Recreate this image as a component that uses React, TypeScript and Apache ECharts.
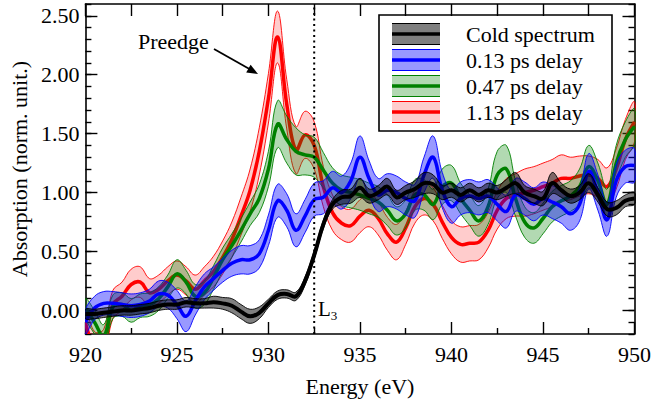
import React, { useEffect, useRef } from "react";
import * as echarts from "echarts";

const energy = [
  920, 920.5, 921, 921.5, 922, 922.5, 923, 923.5, 924, 924.5,
  925, 925.5, 926, 926.5, 927, 927.5, 928, 928.5, 929, 929.5,
  930, 930.5, 931, 931.5, 932, 932.5, 933, 933.5, 934, 934.5,
  935, 935.5, 936, 936.5, 937, 937.5, 938, 938.5, 939, 939.5,
  940, 940.5, 941, 941.5, 942, 942.5, 943, 943.5, 944, 944.5,
  945, 945.5, 946, 946.5, 947, 947.5, 948, 948.5, 949, 949.5,
  950,
];

const coldMean = [
  -0.03, -0.03, -0.02, -0.01, 0.0, 0.0, 0.01, 0.02, 0.04, 0.05,
  0.05, 0.07, 0.06, 0.06, 0.07, 0.06, 0.04, -0.01, -0.05, -0.02,
  0.06, 0.13, 0.14, 0.12, 0.25, 0.47, 0.73, 0.9, 0.96, 0.97,
  1.04, 0.97, 1.0, 1.05, 0.96, 1.0, 1.03, 1.08, 1.07, 1.0,
  1.02, 0.98, 1.02, 0.98, 1.02, 1.0, 1.04, 1.08, 1.0, 0.97,
  0.95, 1.08, 1.02, 0.97, 1.0, 1.08, 0.98, 0.86, 0.87, 0.93,
  0.95,
];
const coldErr = [
  0.04, 0.04, 0.04, 0.04, 0.04, 0.04, 0.04, 0.04, 0.04, 0.04,
  0.04, 0.04, 0.04, 0.04, 0.05, 0.05, 0.06, 0.06, 0.06, 0.05,
  0.035, 0.035, 0.035, 0.035, 0.035, 0.035, 0.035, 0.04, 0.06, 0.06,
  0.08, 0.06, 0.06, 0.07, 0.06, 0.06, 0.07, 0.09, 0.08, 0.06,
  0.06, 0.06, 0.06, 0.06, 0.06, 0.06, 0.07, 0.09, 0.06, 0.06,
  0.06, 0.09, 0.06, 0.06, 0.06, 0.08, 0.06, 0.06, 0.06, 0.05,
  0.05,
];

const delay013Mean = [
  -0.1, 0.02, 0.06, 0.06, 0.05, 0.04, 0.05, 0.08, 0.14, 0.13,
  0.05, -0.05, 0.08, 0.2, 0.27, 0.34, 0.4, 0.43, 0.43, 0.48,
  0.68, 0.93, 0.85, 0.68, 0.8, 0.94, 0.96, 1.04, 1.0, 1.1,
  1.3, 1.12, 0.98, 1.02, 1.0, 0.95, 0.93, 1.15, 1.3, 1.02,
  0.88, 0.95, 0.97, 0.95, 0.97, 0.9, 0.84, 0.98, 0.95, 0.9,
  0.95, 0.92, 0.88, 0.82, 0.9, 1.18, 1.0, 0.77, 1.1, 1.22,
  1.23,
];
const delay013Err = [
  0.1, 0.1, 0.1, 0.1, 0.1, 0.1, 0.1, 0.1, 0.11, 0.11,
  0.12, 0.13, 0.12, 0.11, 0.1, 0.1, 0.11, 0.12, 0.12, 0.12,
  0.13, 0.14, 0.14, 0.14, 0.14, 0.14, 0.14, 0.14, 0.14, 0.15,
  0.18, 0.15, 0.14, 0.14, 0.14, 0.14, 0.14, 0.15, 0.18, 0.15,
  0.14, 0.14, 0.14, 0.14, 0.14, 0.14, 0.14, 0.14, 0.14, 0.14,
  0.14, 0.14, 0.14, 0.14, 0.14, 0.15, 0.15, 0.14, 0.14, 0.14,
  0.14,
];

const delay047Mean = [
  0.02, -0.1, -0.22, 0.03, 0.05, 0.0, 0.04, 0.05, 0.1, 0.2,
  0.31, 0.24, 0.12, 0.15, 0.28, 0.43, 0.55, 0.68, 0.82, 0.95,
  1.2, 1.58, 1.45, 1.35, 1.32, 1.3, 1.19, 1.08, 1.02, 1.0,
  0.98, 0.95, 0.92, 0.85, 0.76, 0.82, 0.98, 0.98, 0.9, 1.05,
  1.08, 0.95, 0.85, 0.76, 0.88, 1.15, 1.2, 0.95, 0.75, 0.7,
  0.78, 0.88, 0.93, 0.97, 1.05, 1.22, 1.1, 0.9, 1.25, 1.45,
  1.56,
];
const delay047Err = [
  0.08, 0.1, 0.1, 0.1, 0.1, 0.1, 0.1, 0.1, 0.1, 0.1,
  0.12, 0.1, 0.1, 0.1, 0.1, 0.1, 0.1, 0.1, 0.1, 0.12,
  0.15, 0.2, 0.2, 0.2, 0.17, 0.17, 0.15, 0.13, 0.13, 0.13,
  0.13, 0.13, 0.13, 0.13, 0.12, 0.12, 0.13, 0.13, 0.13, 0.15,
  0.15, 0.13, 0.13, 0.13, 0.15, 0.2, 0.2, 0.15, 0.13, 0.13,
  0.13, 0.13, 0.13, 0.13, 0.15, 0.18, 0.15, 0.13, 0.15, 0.15,
  0.15,
];

const delay113Mean = [
  -0.1, -0.3, -0.28, 0.05, 0.12, 0.22, 0.24, 0.15, 0.18, 0.25,
  0.3, 0.25, 0.18, 0.25, 0.33, 0.45, 0.6, 0.8, 1.02, 1.35,
  1.8, 2.32, 1.75, 1.36, 1.49, 1.4, 1.05, 0.83, 0.74, 0.72,
  0.8, 0.85, 0.78, 0.65, 0.58, 0.7, 0.88, 0.95, 0.9, 0.75,
  0.62, 0.56, 0.57, 0.58, 0.68, 0.85, 0.95, 0.98, 1.0, 1.02,
  1.05, 1.08, 1.12, 1.12, 1.14, 1.15, 1.12, 1.05, 1.2, 1.45,
  1.6,
];
const delay113Err = [
  0.12, 0.12, 0.12, 0.12, 0.12, 0.13, 0.13, 0.12, 0.12, 0.12,
  0.12, 0.12, 0.12, 0.12, 0.13, 0.14, 0.15, 0.16, 0.18, 0.2,
  0.21, 0.22, 0.21, 0.2, 0.2, 0.2, 0.17, 0.15, 0.14, 0.14,
  0.14, 0.14, 0.14, 0.14, 0.15, 0.14, 0.14, 0.14, 0.14, 0.14,
  0.14, 0.15, 0.15, 0.15, 0.15, 0.16, 0.17, 0.18, 0.2, 0.2,
  0.2, 0.2, 0.2, 0.18, 0.17, 0.16, 0.16, 0.16, 0.17, 0.17,
  0.17,
];

const legendLabels = ["Cold spectrum", "0.13 ps delay", "0.47 ps delay", "1.13 ps delay"];
const yMajorTicks = [0, 0.5, 1, 1.5, 2, 2.5];
const edgeEnergy = 932.5;
const yMin = -0.2;
const yMax = 2.6;

const FONT = "Liberation Serif, Times New Roman, serif";
const SMOOTH = 0.4;

const COLORS = {
  cold: { line: "#000000", fill: "rgba(0,0,0,0.5)" },
  d013: { line: "#0000ff", fill: "rgba(0,0,255,0.4)" },
  d047: { line: "#008000", fill: "rgba(0,128,0,0.3)" },
  d113: { line: "#ff0000", fill: "rgba(255,0,0,0.2)" },
};

function spectrumSeries(name: string, mean: number[], err: number[], color: string, fill: string, lineWidth: number) {
  const data = energy.map((e, i) => [e, mean[i] - err[i], mean[i] + err[i], mean[i]]);
  return {
    type: "custom",
    name,
    silent: true,
    clip: true,
    encode: { x: 0, y: [1, 2, 3] },
    data,
    renderItem: (params: any, api: any) => {
      if (params.dataIndex !== 0) return null;
      const lower = energy.map((e, i) => api.coord([e, mean[i] - err[i]]));
      const upper = energy.map((e, i) => api.coord([e, mean[i] + err[i]]));
      const center = energy.map((e, i) => api.coord([e, mean[i]]));
      const band = lower.concat(upper.slice().reverse());
      return {
        type: "group",
        children: [
          {
            type: "polygon",
            shape: { points: band, smooth: SMOOTH },
            style: { fill, stroke: color, lineWidth: 0.9 },
          },
          {
            type: "polyline",
            shape: { points: center, smooth: SMOOTH },
            style: { fill: "none", stroke: color, lineWidth, lineJoin: "round" },
          },
        ],
      };
    },
  };
}

const axisLineStyle = { color: "#000", width: 1.6 };
const tickStyle = { color: "#000", width: 1.4 };

export default function App() {
  const ref = useRef<HTMLDivElement>(null);
  useEffect(() => {
    if (!ref.current) return;
    const chart = echarts.init(ref.current, undefined, { renderer: "svg" });

    const legendRows = [COLORS.cold, COLORS.d013, COLORS.d047, COLORS.d113];
    const legendY = [34, 60, 86, 112];
    const legendChildren: any[] = [
      {
        type: "rect",
        shape: { x: 379, y: 15, width: 233, height: 116 },
        style: { fill: "#fff", stroke: "#000", lineWidth: 1.6 },
      },
    ];
    legendRows.forEach((c, i) => {
      const cy = legendY[i];
      legendChildren.push(
        { type: "rect", shape: { x: 392, y: cy - 10.5, width: 48, height: 21 }, style: { fill: c.fill } },
        { type: "line", shape: { x1: 392, y1: cy - 10.5, x2: 440, y2: cy - 10.5 }, style: { stroke: c.line, lineWidth: 1 } },
        { type: "line", shape: { x1: 392, y1: cy + 10.5, x2: 440, y2: cy + 10.5 }, style: { stroke: c.line, lineWidth: 1 } },
        { type: "line", shape: { x1: 392, y1: cy, x2: 440, y2: cy }, style: { stroke: c.line, lineWidth: 3.5 } },
        {
          type: "text",
          x: 466,
          y: cy,
          style: { text: legendLabels[i], fontFamily: FONT, fontSize: 22, fill: "#000", verticalAlign: "middle", align: "left" },
        }
      );
    });

    const option: any = {
      animation: false,
      backgroundColor: "#fff",
      textStyle: { fontFamily: FONT },
      grid: { left: 79, right: 19, top: 4, bottom: 71 },
      xAxis: [
        {
          type: "value",
          position: "bottom",
          min: 920,
          max: 950,
          interval: 5,
          axisLine: { show: true, onZero: false, lineStyle: axisLineStyle },
          axisTick: { show: true, inside: true, length: 12, lineStyle: tickStyle },
          minorTick: { show: true, splitNumber: 2, length: 6, lineStyle: tickStyle },
          axisLabel: { fontFamily: FONT, fontSize: 22, color: "#000", margin: 9 },
          splitLine: { show: false },
          name: "Energy (eV)",
          nameLocation: "middle",
          nameGap: 41,
          nameTextStyle: { fontFamily: FONT, fontSize: 22, color: "#000" },
        },
        {
          type: "value",
          position: "top",
          min: 920,
          max: 950,
          interval: 2.5,
          axisLine: { show: true, onZero: false, lineStyle: axisLineStyle },
          axisTick: { show: true, inside: true, length: 12, lineStyle: tickStyle },
          axisLabel: { show: false },
          splitLine: { show: false },
        },
      ],
      yAxis: [
        {
          type: "value",
          position: "left",
          min: yMin,
          max: yMax,
          interval: 0.1,
          axisLine: { show: true, onZero: false, lineStyle: axisLineStyle },
          axisTick: { show: true, inside: true, length: 6, lineStyle: tickStyle },
          axisLabel: { show: false },
          splitLine: { show: false },
        },
        {
          type: "value",
          position: "left",
          min: yMin,
          max: yMax,
          axisLine: { show: false, onZero: false },
          axisTick: { show: true, inside: true, length: 12, lineStyle: tickStyle, customValues: yMajorTicks },
          axisLabel: {
            customValues: yMajorTicks,
            formatter: (v: number) => v.toFixed(2),
            fontFamily: FONT,
            fontSize: 22,
            color: "#000",
            margin: 6,
          },
          splitLine: { show: false },
          name: "Absorption (norm. unit.)",
          nameLocation: "middle",
          nameGap: 50,
          nameTextStyle: { fontFamily: FONT, fontSize: 22, color: "#000" },
        },
        {
          type: "value",
          position: "right",
          min: yMin,
          max: yMax,
          interval: 0.1,
          axisLine: { show: true, onZero: false, lineStyle: axisLineStyle },
          axisTick: { show: true, inside: true, length: 6, lineStyle: tickStyle },
          axisLabel: { show: false },
          splitLine: { show: false },
        },
        {
          type: "value",
          position: "right",
          min: yMin,
          max: yMax,
          axisLine: { show: false, onZero: false },
          axisTick: { show: true, inside: true, length: 12, lineStyle: tickStyle, customValues: yMajorTicks },
          axisLabel: { show: false, customValues: yMajorTicks },
          splitLine: { show: false },
        },
      ],
      series: [
        spectrumSeries("1.13 ps delay", delay113Mean, delay113Err, COLORS.d113.line, COLORS.d113.fill, 3.5),
        spectrumSeries("0.47 ps delay", delay047Mean, delay047Err, COLORS.d047.line, COLORS.d047.fill, 3.5),
        spectrumSeries("0.13 ps delay", delay013Mean, delay013Err, COLORS.d013.line, COLORS.d013.fill, 3.5),
        spectrumSeries("Cold spectrum", coldMean, coldErr, COLORS.cold.line, COLORS.cold.fill, 4),
        {
          type: "custom",
          name: "L3 edge",
          silent: true,
          clip: true,
          encode: { x: 0 },
          data: [[edgeEnergy]],
          renderItem: (params: any, api: any) => {
            const p0 = api.coord([api.value(0), yMin]);
            const p1 = api.coord([api.value(0), yMax]);
            return {
              type: "line",
              shape: { x1: p0[0], y1: p0[1], x2: p1[0], y2: p1[1] },
              style: { stroke: "#000", lineWidth: 2, lineDash: [2, 3.5] },
            };
          },
        },
      ],
      graphic: [
        { type: "group", z: 100, children: legendChildren },
        {
          type: "text",
          z: 100,
          x: 138,
          y: 41,
          style: { text: "Preedge", fontFamily: FONT, fontSize: 22, fill: "#000", verticalAlign: "middle" },
        },
        {
          type: "line",
          z: 100,
          shape: { x1: 214, y1: 49, x2: 249, y2: 68.8 },
          style: { stroke: "#000", lineWidth: 1.8 },
        },
        {
          type: "polygon",
          z: 100,
          shape: { points: [[258, 74], [246.2, 72.5], [250.6, 64.7]] },
          style: { fill: "#000" },
        },
        {
          type: "text",
          z: 100,
          x: 318,
          y: 298,
          style: {
            text: "{a|L}{b|3}",
            rich: {
              a: { fontFamily: FONT, fontSize: 21, fill: "#000", verticalAlign: "bottom" },
              b: { fontFamily: FONT, fontSize: 13, fill: "#000", verticalAlign: "bottom", padding: [0, 0, -3, 0] },
            },
          },
        },
      ],
    };
    chart.setOption(option);
    return () => chart.dispose();
  }, []);
  return <div ref={ref} style={{ position: "fixed", left: 0, top: 0, width: 654, height: 405, background: "#fff" }} />;
}
